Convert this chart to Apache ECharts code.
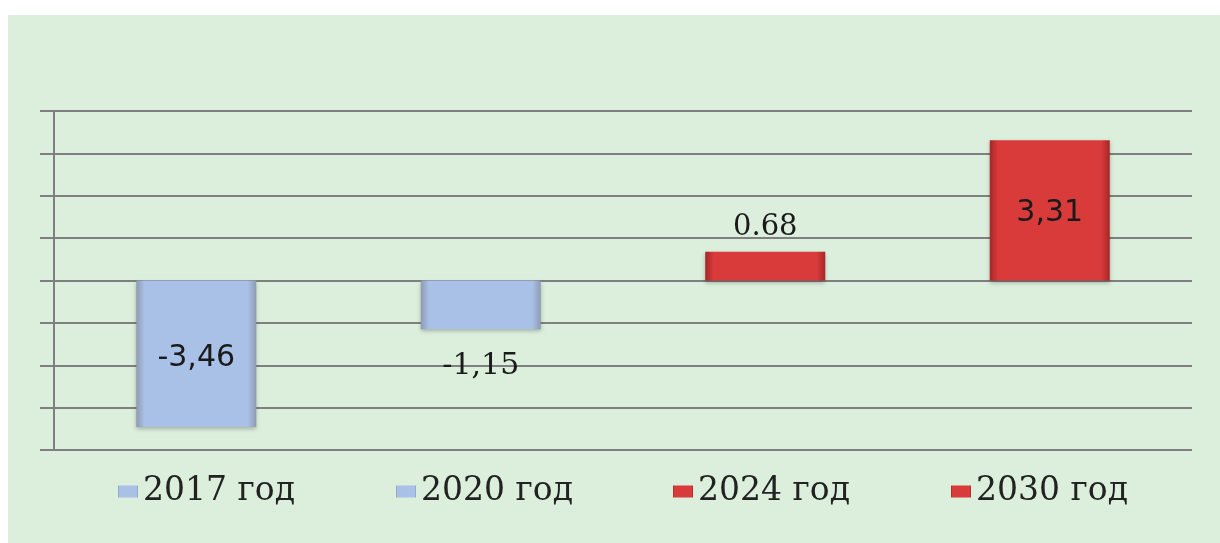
<!DOCTYPE html>
<html>
<head>
<meta charset="utf-8">
<script src="https://cdn.jsdelivr.net/npm/echarts@6/dist/echarts.min.js"></script>
<style>
	body { margin: 0; background: #ffffff; }
	#main { position: absolute; left: 8px; top: 15px; width: 1212px; height: 528px; background: #dcefdc; }
</style>
</head>
<body>
<div id="main"></div>
<script>
var years = ['2017 год', '2020 год', '2024 год', '2030 год'];
var values = [-3.46, -1.15, 0.68, 3.31];
var labelTexts = ['-3,46', '-1,15', '0.68', '3,31'];
var yTicks = [-4, -3, -2, -1, 0, 1, 2, 3, 4];

var chart = echarts.init(document.getElementById('main'));

var blueFill = new echarts.graphic.LinearGradient(0, 0, 1, 0, [
	{ offset: 0, color: '#8d9bb2' },
	{ offset: 0.07, color: '#a9c0e7' },
	{ offset: 0.93, color: '#a9c0e7' },
	{ offset: 1, color: '#8d9bb2' }
]);
var redFill = new echarts.graphic.LinearGradient(0, 0, 1, 0, [
	{ offset: 0, color: '#a52626' },
	{ offset: 0.07, color: '#d93b3b' },
	{ offset: 0.93, color: '#d93b3b' },
	{ offset: 1, color: '#a52626' }
]);
var fills = [blueFill, blueFill, redFill, redFill];
var legendColors = ['#8c9cb8', '#8c9cb8', '#c82a2a', '#c82a2a'];
var labelSetup = [
	{ position: 'inside', offset: [0, 4], fontFamily: 'DejaVu Sans', fontSize: 30 },
	{ position: 'bottom', distance: 22, fontFamily: 'DejaVu Serif', fontSize: 30 },
	{ position: 'top', distance: 10, fontFamily: 'DejaVu Serif', fontSize: 29 },
	{ position: 'inside', offset: [0, 3], fontFamily: 'DejaVu Sans', fontSize: 30 }
];
var legendLeft = [105, 383, 660, 938];

var series = years.map(function(name, i) {
	var data = years.map(function(y, j) { return j === i ? values[i] : '-'; });
	return {
		name: name,
		type: 'bar',
		stack: 'all',
		barWidth: 120,
		color: legendColors[i],
		itemStyle: {
			color: fills[i],
			shadowColor: 'rgba(0,0,0,0.25)',
			shadowBlur: 4,
			shadowOffsetY: 2
		},
		label: {
			show: true,
			position: labelSetup[i].position,
			distance: labelSetup[i].distance,
			offset: labelSetup[i].offset,
			color: '#1a1a1a',
			fontFamily: labelSetup[i].fontFamily,
			fontSize: labelSetup[i].fontSize,
			formatter: function() { return labelTexts[i]; }
		},
		data: data
	};
});

var legends = years.map(function(name, i) {
	return {
		data: [name],
		left: legendLeft[i],
		top: 455,
		itemWidth: 20,
		itemHeight: 12,
		itemGap: 4,
		icon: 'rect',
		textStyle: { fontFamily: 'DejaVu Serif', fontSize: 33, color: '#222222' },
		selectedMode: false
	};
});

option = {
	animation: false,
	legend: legends,
	grid: { left: 46, right: 28, top: 96, bottom: 93 },
	xAxis: {
		type: 'category',
		data: years,
		axisLine: { show: false },
		axisTick: { show: false },
		axisLabel: { show: false }
	},
	yAxis: {
		type: 'value',
		min: yTicks[0],
		max: yTicks[yTicks.length - 1],
		interval: 1,
		axisLine: { show: true, lineStyle: { color: '#7f7f7f', width: 2 } },
		axisTick: { show: true, length: 14, lineStyle: { color: '#7f7f7f', width: 2 } },
		axisLabel: { show: false },
		splitLine: { lineStyle: { color: '#7f7f7f', width: 2 } }
	},
	series: series
};

chart.setOption(option);
</script>
</body>
</html>
